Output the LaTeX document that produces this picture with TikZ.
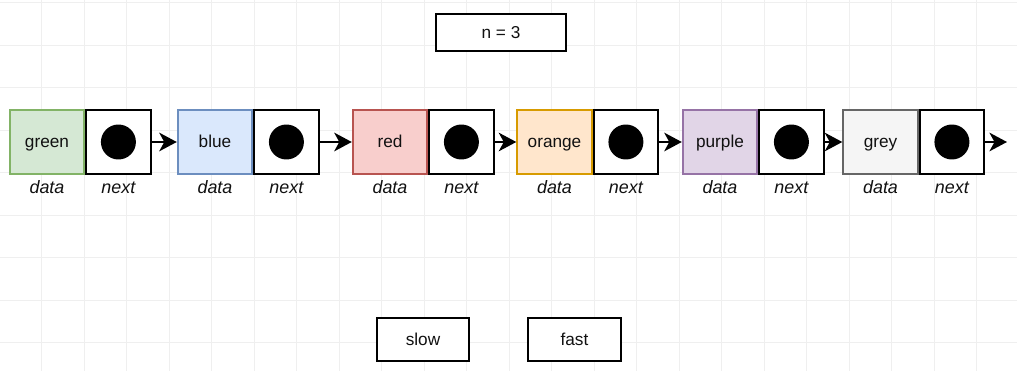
\documentclass[tikz,border=0pt]{standalone}
\usepackage{fontspec}
\setmainfont{Liberation Sans}
\usetikzlibrary{arrows.meta,positioning}
\definecolor{greenfill}{HTML}{D5E8D4}
\definecolor{greenline}{HTML}{82B366}
\definecolor{bluefill}{HTML}{DAE8FC}
\definecolor{blueline}{HTML}{6C8EBF}
\definecolor{redfill}{HTML}{F8CECC}
\definecolor{redline}{HTML}{B85450}
\definecolor{orangefill}{HTML}{FFE6CC}
\definecolor{orangeline}{HTML}{D79B00}
\definecolor{purplefill}{HTML}{E1D5E7}
\definecolor{purpleline}{HTML}{9673A6}
\definecolor{greyfill}{HTML}{F5F5F5}
\definecolor{greyline}{HTML}{666666}
\definecolor{gridgrey}{HTML}{EFEFEF}
\definecolor{ink}{HTML}{111111}

\begin{document}
\begin{tikzpicture}[
  x=0.02cm,y=-0.02cm,
  font=\fontsize{9.8}{11.5}\selectfont,
  text=ink,
  databox/.style={draw, line width=1.1pt, minimum width=1.49cm,
    minimum height=1.28cm, inner sep=0pt, text height=1.6ex, text depth=0.4ex},
  nextbox/.style={draw=black, line width=1.1pt, fill=white, minimum width=1.29cm,
    minimum height=1.28cm, inner sep=0pt},
  pointer/.style={circle, fill=black, minimum size=0.7cm, inner sep=0pt},
  fieldname/.style={font=\itshape\fontsize{10.2}{12}\selectfont, inner sep=1pt,
    text height=1.6ex, text depth=0.4ex},
  labelbox/.style={draw=black, line width=1.1pt, fill=white, inner sep=0pt,
    minimum height=0.86cm, text height=1.6ex, text depth=0.4ex},
  link/.style={-{Stealth[length=3.5mm,width=3.7mm,inset=1mm]}, line width=1.5pt},
  gridline/.style={draw=gridgrey, line width=0.5pt}
]

\useasboundingbox (0,0) rectangle (1017,371);
\fill[white] (0,0) rectangle (1017,371);

% Background grid
\begin{scope}
  \clip (0,0) rectangle (1017,371);
  \draw[gridline, step=0.85cm, xshift=0.834cm, yshift=-0.05cm] (-60,-60) grid (1100,420);
\end{scope}

% Counter
\node[labelbox, minimum width=2.6cm, minimum height=0.74cm] (count) at (501,32.5) {n = 3};

% List cells
\node[databox, draw=greenline, fill=greenfill] (greendata) at (47,142) {green};
\node[nextbox, right=0pt of greendata] (greennext) {};
\node[pointer] (greendot) at (greennext.center) {};
\node[fieldname, below=0.04cm of greendata] (greendatalabel) {data};
\node[fieldname, below=0.04cm of greennext] (greennextlabel) {next};

\node[databox, draw=blueline, fill=bluefill] (bluedata) at (215,142) {blue};
\node[nextbox, right=0pt of bluedata] (bluenext) {};
\node[pointer] (bluedot) at (bluenext.center) {};
\node[fieldname, below=0.04cm of bluedata] (bluedatalabel) {data};
\node[fieldname, below=0.04cm of bluenext] (bluenextlabel) {next};

\node[databox, draw=redline, fill=redfill] (reddata) at (390,142) {red};
\node[nextbox, right=0pt of reddata] (rednext) {};
\node[pointer] (reddot) at (rednext.center) {};
\node[fieldname, below=0.04cm of reddata] (reddatalabel) {data};
\node[fieldname, below=0.04cm of rednext] (rednextlabel) {next};

\node[databox, draw=orangeline, fill=orangefill] (orangedata) at (554.5,142) {orange};
\node[nextbox, right=0pt of orangedata] (orangenext) {};
\node[pointer] (orangedot) at (orangenext.center) {};
\node[fieldname, below=0.04cm of orangedata] (orangedatalabel) {data};
\node[fieldname, below=0.04cm of orangenext] (orangenextlabel) {next};

\node[databox, draw=purpleline, fill=purplefill] (purpledata) at (720,142) {purple};
\node[nextbox, right=0pt of purpledata] (purplenext) {};
\node[pointer] (purpledot) at (purplenext.center) {};
\node[fieldname, below=0.04cm of purpledata] (purpledatalabel) {data};
\node[fieldname, below=0.04cm of purplenext] (purplenextlabel) {next};

\node[databox, draw=greyline, fill=greyfill] (greydata) at (880.5,142) {grey};
\node[nextbox, right=0pt of greydata] (greynext) {};
\node[pointer] (greydot) at (greynext.center) {};
\node[fieldname, below=0.04cm of greydata] (greydatalabel) {data};
\node[fieldname, below=0.04cm of greynext] (greynextlabel) {next};

\coordinate (tail) at (1007,142);

% Links
\draw[link] (greennext.east) -- (bluedata.west);
\draw[link] (bluenext.east) -- (reddata.west);
\draw[link] (rednext.east) -- (orangedata.west);
\draw[link] (orangenext.east) -- (purpledata.west);
\draw[link] (purplenext.east) -- (greydata.west);
\draw[link] (greynext.east) -- (tail);

% Pointers
\node[labelbox, minimum width=1.84cm] (slow) at (423,339.5) {slow};
\node[labelbox, minimum width=1.86cm] (fast) at (574.5,339.5) {fast};

\end{tikzpicture}
\end{document}
